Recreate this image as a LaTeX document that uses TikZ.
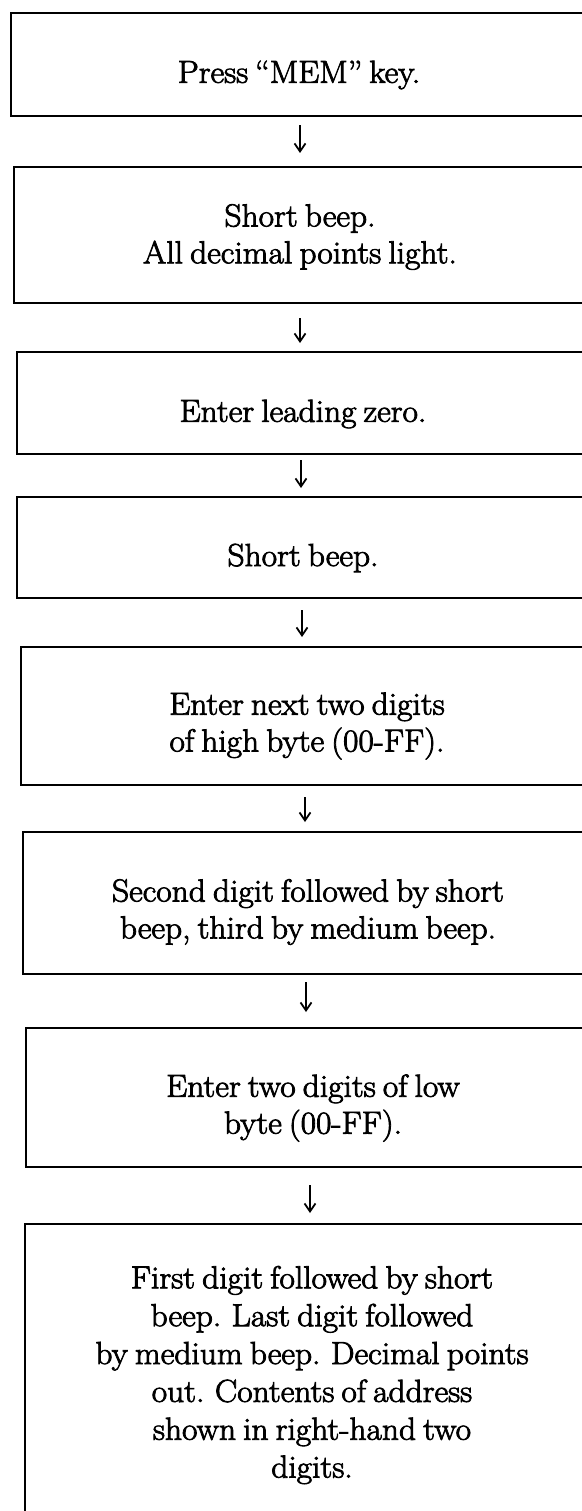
\documentclass[tikz,border=0pt]{standalone}
\usepackage{fontspec}
\setmainfont{Latin Modern Roman}[WordSpace=0.7, FakeBold=2.5, FakeStretch=1.05]
\usetikzlibrary{arrows.meta}
\begin{document}
\begin{tikzpicture}[x=1bp,y=-1bp,
  box/.style={draw, line width=2.8bp, rectangle, inner sep=0pt, outer sep=0pt, anchor=north west, minimum width=640bp},
  lbl/.style={align=center, inner sep=0pt, font=\fontsize{32}{37}\selectfont},
  arr/.style={line width=1.8bp, -{Straight Barb[length=8bp,width=11bp]}}]
\useasboundingbox (0,0) rectangle (582,1511);
\clip (0,0) rectangle (582,1511);
% boxes
\node[box, minimum height=103bp] (b1) at (11,13) {};
\node[box, minimum height=136bp] (b2) at (14,167) {};
\node[box, minimum height=102bp] (b3) at (17,352) {};
\node[box, minimum height=101bp] (b4) at (17,497) {};
\node[box, minimum height=138bp] (b5) at (21,647) {};
\node[box, minimum height=142bp] (b6) at (23,832) {};
\node[box, minimum height=139bp] (b7) at (26,1028) {};
\node[box, minimum height=330bp] (b8) at (25,1224) {};
% texts
\node[lbl] (t1) at (299,75) {Press “MEM” key.};
\node[lbl] (t2) at (300,237) {Short beep.\\All decimal points light.};
\node[lbl] (t3) at (303,414) {Enter leading zero.};
\node[lbl] (t4) at (303,558) {Short beep.};
\node[lbl] (t5) at (307,726) {Enter next two digits\\of high byte (00-FF).};
\node[lbl] (t6) at (308,912) {Second digit followed by short\\beep, third by medium beep.};
\node[lbl] (t7) at (313,1108) {Enter two digits of low\\byte (00-FF).};
\node[lbl, font=\fontsize{32}{38}\selectfont] (t8) at (312,1375) {First digit followed by short\\beep. Last digit followed\\by medium beep. Decimal points\\out. Contents of address\\shown in right-hand two\\digits.};
% arrow columns
\coordinate (a1) at (300,0);
\coordinate (a2) at (300,0);
\coordinate (a3) at (301,0);
\coordinate (a4) at (302,0);
\coordinate (a5) at (305,0);
\coordinate (a6) at (306,0);
\coordinate (a7) at (310,0);
% connectors
\draw[arr, shorten <=9bp, shorten >=14bp] (b1.south -| a1) -- (b2.north -| a1);
\draw[arr, shorten <=15bp, shorten >=9bp] (b2.south -| a2) -- (b3.north -| a2);
\draw[arr, shorten <=6bp, shorten >=9bp] (b3.south -| a3) -- (b4.north -| a3);
\draw[arr, shorten <=12bp, shorten >=10bp] (b4.south -| a4) -- (b5.north -| a4);
\draw[arr, shorten <=12bp, shorten >=10bp] (b5.south -| a5) -- (b6.north -| a5);
\draw[arr, shorten <=8bp, shorten >=16bp] (b6.south -| a6) -- (b7.north -| a6);
\draw[arr, shorten <=18bp, shorten >=11bp] (b7.south -| a7) -- (b8.north -| a7);
\end{tikzpicture}
\end{document}
